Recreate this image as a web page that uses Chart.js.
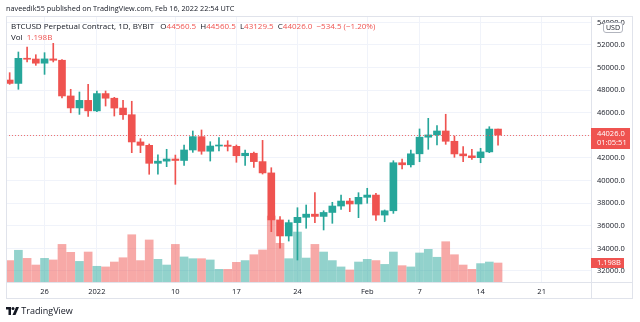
<!DOCTYPE html>
<html>
<head>
<meta charset="utf-8">
<script src="https://cdn.jsdelivr.net/npm/chart.js@4/dist/chart.umd.min.js"></script>
<style>
  body { margin: 0; background: #fff; }
  #wrap { position: relative; width: 640px; height: 322px; font-family: "Open Sans", sans-serif; color: #131722; overflow: hidden; }
  #c { position: absolute; left: 0; top: 0; }
  .txt { position: absolute; white-space: nowrap; font-size: 8px; line-height: 10px; }
  .r { color: #ef5350; }
  .box { position: absolute; pointer-events: none; }
  .tag { position: absolute; background: #ef5350; color: #fff; font-size: 7.5px; line-height: 9px; text-align: left; padding-left: 6px; box-sizing: border-box; }
</style>
</head>
<body>
<div id="wrap">
  <canvas id="c" width="640" height="322"></canvas>
  <div class="txt" style="left:6px;top:3px;font-size:7.3px;">naveedik55 published on TradingView.com, Feb 16, 2022 22:54 UTC</div>
  <div class="txt" style="left:11px;top:21px;">BTCUSD Perpetual Contract, 1D, BYBIT&nbsp;&nbsp;&nbsp;O<span class="r">44560.5</span>&nbsp;&nbsp;H<span class="r">44560.5</span>&nbsp;&nbsp;L<span class="r">43129.5</span>&nbsp;&nbsp;C<span class="r">44026.0</span>&nbsp;&nbsp;<span class="r">−534.5 (−1.20%)</span></div>
  <div class="txt" style="left:11px;top:32px;">Vol&nbsp;&nbsp;<span class="r">1.198B</span></div>
  <div class="box" style="left:6px;top:16px;width:627px;height:283px;border:1px solid #e0e3eb;box-sizing:border-box;"></div>
  <div class="box" style="left:591px;top:16px;width:1px;height:283px;background:#e0e3eb;"></div>
  <div class="box" style="left:591px;top:282px;width:42px;height:1px;background:#e0e3eb;"></div>
  <div class="txt" style="left:603px;top:22px;font-size:7px;line-height:9px;padding:0 2px;background:#fff;border:1px solid #b2b5be;border-radius:3px;">USD</div>
  <div class="tag" style="left:591px;top:128px;width:39px;height:21px;padding-top:1px;">44026.0<br>01:05:51</div>
  <div class="tag" style="left:591px;top:258px;width:33px;height:10px;padding-top:0;">1.198B</div>
  <div class="txt" style="left:6px;top:305px;font-size:9px;line-height:11px;color:#131722;">
    <svg width="13" height="8" viewBox="0 0 13 8" style="vertical-align:-1px"><path d="M0 0h5v8h-2.5v-5.5h-2.5z" fill="#131722"/><circle cx="7" cy="1.5" r="1.5" fill="#131722"/><path d="M10 0h3l-3.5 8h-3z" fill="#131722"/></svg>
    TradingView</div>
</div>
<script>
const dates = ['Dec 22', 'Dec 23', 'Dec 24', 'Dec 25', 'Dec 26', 'Dec 27', 'Dec 28', 'Dec 29', 'Dec 30', 'Dec 31',
  'Jan 1', 'Jan 2', 'Jan 3', 'Jan 4', 'Jan 5', 'Jan 6', 'Jan 7', 'Jan 8', 'Jan 9', 'Jan 10',
  'Jan 11', 'Jan 12', 'Jan 13', 'Jan 14', 'Jan 15', 'Jan 16', 'Jan 17', 'Jan 18', 'Jan 19', 'Jan 20',
  'Jan 21', 'Jan 22', 'Jan 23', 'Jan 24', 'Jan 25', 'Jan 26', 'Jan 27', 'Jan 28', 'Jan 29', 'Jan 30',
  'Jan 31', 'Feb 1', 'Feb 2', 'Feb 3', 'Feb 4', 'Feb 5', 'Feb 6', 'Feb 7', 'Feb 8', 'Feb 9',
  'Feb 10', 'Feb 11', 'Feb 12', 'Feb 13', 'Feb 14', 'Feb 15', 'Feb 16'];

const opens = [48900, 48600, 50820, 50760, 50390, 50770, 50650, 47490, 46430, 47100,
  46170, 47700, 47290, 46420, 45830, 43420, 43120, 41530, 41720, 41910,
  41780, 42710, 43890, 42600, 43060, 43140, 43030, 42200, 42420, 41680,
  40680, 36520, 35100, 36280, 36750, 37030, 36830, 37180, 37750, 38190,
  37930, 38520, 38720, 36950, 37330, 41580, 41400, 42370, 43840, 44040,
  44390, 43480, 42360, 42190, 42030, 42540, 44560.5];
const highs = [49550, 51380, 51820, 51140, 51320, 52150, 50700, 48080, 47840, 48520,
  47930, 47930, 47370, 47100, 47020, 43710, 43240, 42290, 42770, 42260,
  43150, 44390, 44480, 43440, 43800, 43530, 43150, 42710, 42520, 43560,
  41140, 36820, 36510, 37600, 37840, 38930, 37330, 38080, 38720, 38430,
  38930, 39320, 38870, 37400, 41760, 41900, 42700, 44570, 45510, 44860,
  45870, 43950, 43000, 42770, 42860, 44770, 44560.5];
const lows = [48520, 48080, 50500, 50200, 49400, 50500, 47310, 46000, 45860, 45680,
  46100, 46600, 45715, 45420, 42470, 42470, 40560, 40560, 41230, 39670,
  41350, 42500, 42330, 41730, 42620, 42620, 41620, 41350, 41170, 40580,
  35480, 34010, 34650, 32970, 35780, 36270, 35630, 36220, 37450, 37250,
  36720, 37990, 36470, 36360, 37100, 41030, 41200, 41670, 42770, 43150,
  43210, 42060, 41670, 41880, 41580, 42470, 43129.5];
const closes = [48600, 50820, 50740, 50390, 50770, 50650, 47490, 46430, 47100, 46170,
  47700, 47290, 46420, 45830, 43420, 43120, 41530, 41720, 41910, 41780,
  42710, 43890, 42600, 43060, 43140, 43030, 42200, 42420, 41680, 40680,
  36520, 35100, 36280, 36750, 37030, 36830, 37180, 37750, 38190, 37930,
  38520, 38720, 36950, 37330, 41580, 41400, 42370, 43840, 44040, 44390,
  43480, 42360, 42190, 42030, 42540, 44560.5, 44026];
// volume, billions
const volumes = [1.35, 2.0, 1.49, 1.07, 1.49, 1.39, 2.37, 1.87, 1.30, 1.89,
  0.99, 0.95, 1.26, 1.53, 2.98, 1.35, 2.65, 1.43, 1.07, 2.37,
  1.58, 1.47, 1.47, 1.39, 0.80, 0.80, 1.24, 1.35, 1.72, 2.02,
  4.16, 2.44, 1.47, 3.15, 1.51, 2.37, 1.89, 1.35, 0.95, 0.76,
  1.26, 1.43, 1.35, 1.11, 1.89, 1.03, 0.95, 1.83, 2.06, 1.56,
  2.54, 1.72, 1.07, 0.80, 1.16, 1.26, 1.198];

const tickDays = [4, 10, 19, 26, 33, 41, 47, 54, 61];
const tickLabels = ['26', '2022', '10', '17', '24', 'Feb', '7', '14', '21'];
const priceTicks = [32000, 34000, 36000, 38000, 40000, 42000, 44000, 46000, 48000, 50000, 52000, 54000];

const UP = '#26a69a', DOWN = '#ef5350';
const UP_VOL = 'rgba(38,166,154,0.5)', DOWN_VOL = 'rgba(239,83,80,0.5)';
const FONT = '"Open Sans", sans-serif';

const isUp = dates.map((d, i) => closes[i] >= opens[i]);
const candleColors = isUp.map(u => u ? UP : DOWN);
const lastClose = closes[closes.length - 1];

// dotted line at last price
const priceLine = {
    id: 'priceLine',
    afterDatasetsDraw(chart) {
        const { ctx, chartArea } = chart;
        const y = Math.round(chart.scales.y.getPixelForValue(lastClose)) + 0.5;
        ctx.save();
        ctx.strokeStyle = 'rgba(239,83,80,0.8)';
        ctx.lineWidth = 1;
        ctx.setLineDash([1, 2]);
        ctx.beginPath();
        ctx.moveTo(chartArea.left, y);
        ctx.lineTo(chartArea.right, y);
        ctx.stroke();
        ctx.restore();
    }
};

new Chart(document.getElementById('c').getContext('2d'), {
    type: 'bar',
    data: {
        datasets: [
            {
                label: 'Volume',
                yAxisID: 'vol',
                data: volumes.map((v, i) => ({ x: i, y: v })),
                backgroundColor: isUp.map(u => u ? UP_VOL : DOWN_VOL),
                barThickness: 8,
                grouped: false,
                order: 3
            },
            {
                label: 'Wick',
                data: highs.map((h, i) => ({ x: i, y: [lows[i], h] })),
                backgroundColor: candleColors,
                barThickness: 1,
                grouped: false,
                order: 2
            },
            {
                label: 'Body',
                data: opens.map((o, i) => ({ x: i, y: [o, closes[i]] })),
                backgroundColor: candleColors,
                barThickness: 7,
                minBarLength: 1,
                grouped: false,
                order: 1
            }
        ]
    },
    options: {
        responsive: false,
        animation: false,
        layout: { padding: { left: 6, top: 16, right: 7, bottom: 23 } },
        plugins: { legend: { display: false }, tooltip: { enabled: false } },
        scales: {
            x: {
                type: 'linear',
                offset: false,
                min: -0.42,
                max: 66.66,
                afterBuildTicks: (scale) => { scale.ticks = tickDays.map(v => ({ value: v })); },
                afterFit: (scale) => { scale.height = 17; },
                grid: { color: '#f0f3fa', drawTicks: false, offset: false },
                border: { color: '#e0e3eb' },
                ticks: {
                    autoSkip: false,
                    maxRotation: 0,
                    padding: 5,
                    color: '#131722',
                    font: { family: FONT, size: 7.5 },
                    callback: (value, index) => tickLabels[index]
                }
            },
            y: {
                position: 'right',
                min: 31026,
                max: 54566,
                afterBuildTicks: (scale) => { scale.ticks = priceTicks.map(v => ({ value: v })); },
                afterFit: (scale) => { scale.width = 42; },
                grid: { color: '#f0f3fa', drawTicks: false },
                border: { color: '#e0e3eb' },
                ticks: {
                    padding: 6,
                    color: '#131722',
                    font: { family: FONT, size: 7.5 },
                    callback: (value) => value.toFixed(1)
                }
            },
            vol: {
                display: false,
                min: 0,
                max: 16.77
            }
        }
    },
    plugins: [priceLine]
});
</script>
</body>
</html>
